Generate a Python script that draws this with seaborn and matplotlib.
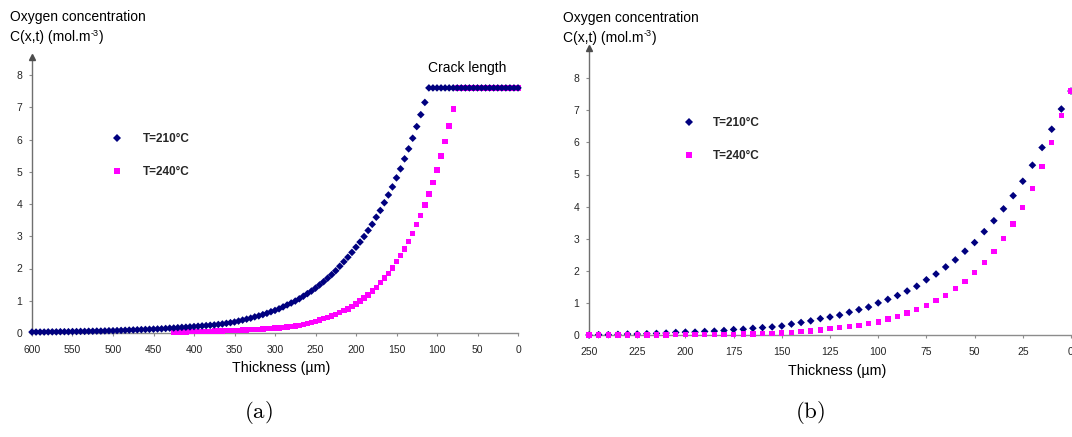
import numpy as np
import pandas as pd
import matplotlib
matplotlib.use("Agg")
import matplotlib.pyplot as plt
from matplotlib.lines import Line2D
import seaborn as sns

# ---------------------------------------------------------------------------
# Oxygen concentration profiles (mol.m-3) versus thickness (um)
# ---------------------------------------------------------------------------
series_labels = ["T=210°C", "T=240°C"]
series_colors = {"T=210°C": "#00007f", "T=240°C": "#ff00ff"}
series_markers = {"T=210°C": "D", "T=240°C": "s"}

# (a) full thickness, 5 um step, crack zone at constant concentration
thickness_a_210 = np.arange(600, -1, -5)
conc_a_210 = [
    0.03, 0.03, 0.03, 0.03, 0.035, 0.035, 0.035, 0.04, 0.04, 0.04,
    0.045, 0.045, 0.05, 0.05, 0.055, 0.055, 0.06, 0.06, 0.065, 0.07,
    0.07, 0.075, 0.08, 0.085, 0.09, 0.095, 0.10, 0.105, 0.11, 0.115,
    0.12, 0.125, 0.13, 0.14, 0.15, 0.155, 0.165, 0.175, 0.18, 0.19,
    0.20, 0.21, 0.22, 0.23, 0.24, 0.25, 0.265, 0.28, 0.30, 0.32,
    0.34, 0.37, 0.40, 0.43, 0.46, 0.50, 0.53, 0.57, 0.61, 0.66,
    0.70, 0.75, 0.81, 0.87, 0.93, 0.99, 1.06, 1.14, 1.22, 1.30,
    1.39, 1.49, 1.59, 1.70, 1.81, 1.93, 2.07, 2.21, 2.35, 2.50,
    2.66, 2.82, 2.99, 3.18, 3.37, 3.59, 3.80, 4.04, 4.28, 4.53,
    4.81, 5.09, 5.40, 5.71, 6.04, 6.40, 6.77, 7.15,
    7.6, 7.6, 7.6, 7.6, 7.6, 7.6, 7.6, 7.6, 7.6, 7.6, 7.6, 7.6,
    7.6, 7.6, 7.6, 7.6, 7.6, 7.6, 7.6, 7.6, 7.6, 7.6, 7.6,
]
thickness_a_240 = np.arange(425, -1, -5)
conc_a_240 = [
    0.03, 0.03, 0.035, 0.035, 0.04, 0.04, 0.045, 0.05, 0.05, 0.055,
    0.06, 0.06, 0.065, 0.07, 0.075, 0.08, 0.085, 0.09, 0.095, 0.10,
    0.105, 0.11, 0.12, 0.13, 0.14, 0.15, 0.16, 0.17, 0.185, 0.20,
    0.22, 0.24, 0.265, 0.29, 0.32, 0.36, 0.40, 0.44, 0.48, 0.53,
    0.58, 0.63, 0.69, 0.75, 0.82, 0.90, 0.99, 1.08, 1.18, 1.30,
    1.42, 1.56, 1.70, 1.85, 2.02, 2.21, 2.41, 2.61, 2.84, 3.09,
    3.37, 3.64, 3.97, 4.31, 4.66, 5.05, 5.49, 5.94, 6.42, 6.95,
    7.6, 7.6, 7.6, 7.6, 7.6, 7.6, 7.6, 7.6, 7.6, 7.6, 7.6, 7.6,
    7.6, 7.6, 7.6, 7.6,
]
xticks_a = [600, 550, 500, 450, 400, 350, 300, 250, 200, 150, 100, 50, 0]

# (b) near-surface zone, 5 um step
thickness_b = np.arange(250, -1, -5)
conc_b_210 = [
    0.0, 0.01, 0.01, 0.02, 0.03, 0.03, 0.04, 0.05, 0.06, 0.08,
    0.09, 0.09, 0.11, 0.12, 0.14, 0.17, 0.18, 0.21, 0.23, 0.25,
    0.28, 0.34, 0.39, 0.44, 0.51, 0.56, 0.62, 0.71, 0.79, 0.87,
    1.00, 1.11, 1.23, 1.37, 1.52, 1.72, 1.90, 2.12, 2.34, 2.61,
    2.88, 3.22, 3.56, 3.93, 4.34, 4.79, 5.29, 5.84, 6.41, 7.04,
    7.6,
]
conc_b_240 = [
    0.0, 0.0, 0.0, 0.0, 0.0, 0.0, 0.005, 0.005, 0.005, 0.01,
    0.01, 0.01, 0.01, 0.01, 0.02, 0.02, 0.03, 0.03, 0.04, 0.05,
    0.06, 0.08, 0.10, 0.12, 0.16, 0.20, 0.23, 0.26, 0.30, 0.36,
    0.41, 0.50, 0.57, 0.68, 0.80, 0.91, 1.07, 1.23, 1.44, 1.67,
    1.95, 2.25, 2.60, 3.00, 3.46, 3.98, 4.57, 5.24, 6.00, 6.83,
    7.6,
]
xticks_b = [250, 225, 200, 175, 150, 125, 100, 75, 50, 25, 0]
yticks = [0, 1, 2, 3, 4, 5, 6, 7, 8]

y_title = ["Oxygen concentration", "C(x,t) (mol.m", "-3", ")"]
x_title = "Thickness (µm)"


def frame(x210, c210, x240, c240, top_series):
    d210 = pd.DataFrame({"x": x210, "c": c210, "series": series_labels[0]})
    d240 = pd.DataFrame({"x": x240, "c": c240, "series": series_labels[1]})
    # the series listed last is drawn on top
    if top_series == series_labels[0]:
        return pd.concat([d240, d210], ignore_index=True)
    return pd.concat([d210, d240], ignore_index=True)


df_a = frame(thickness_a_210, conc_a_210, thickness_a_240, conc_a_240, series_labels[0])
df_b = frame(thickness_b, conc_b_210, thickness_b, conc_b_240, series_labels[1])

sns.set_theme(style="white")
plt.rcParams["font.family"] = ["Liberation Sans", "DejaVu Sans"]

W, H = 1072, 437
fig = plt.figure(figsize=(W / 100, H / 100), dpi=100)
fig.patch.set_facecolor("white")


def px_axes(left, right, bottom, top):
    return fig.add_axes([left / W, (H - bottom) / H, (right - left) / W, (bottom - top) / H])


ax_a = px_axes(32, 518, 333, 57)
ax_b = px_axes(589, 1071, 335, 48)


def draw_panel(ax, df, xmax, xticks, ytop, legend_anchor, label_gap):
    sns.scatterplot(
        data=df, x="x", y="c", hue="series", style="series",
        hue_order=series_labels, style_order=series_labels,
        palette=series_colors, markers=series_markers,
        s=15, linewidth=0, legend=False, ax=ax, clip_on=False, zorder=3,
    )
    ax.set_xlim(xmax, 0)
    ax.set_ylim(0, ytop)
    ax.set_xticks(xticks)
    ax.set_xticklabels([str(t) for t in xticks])
    ax.set_yticks(yticks)
    ax.set_yticklabels([str(t) for t in yticks])
    ax.set_xlabel("")
    ax.set_ylabel("")
    for side in ("top", "right"):
        ax.spines[side].set_visible(False)
    ax.spines["left"].set_color("#6f6f6f")
    ax.spines["bottom"].set_color("#8c8c8c")
    ax.spines["left"].set_linewidth(1.0)
    ax.spines["bottom"].set_linewidth(1.0)
    ax.tick_params(axis="both", which="major", bottom=True, left=True,
                   direction="out", length=2.5, width=0.8, color="#8c8c8c",
                   labelsize=7.5, labelcolor="#262626")
    ax.tick_params(axis="x", pad=6)
    ax.tick_params(axis="y", pad=4.5)
    ax.set_facecolor("white")
    # arrow head at the top of the concentration axis
    ax.plot([0], [1], marker="^", markersize=4, color="#4d4d4d",
            transform=ax.transAxes, clip_on=False, zorder=5)

    handles = [
        Line2D([], [], linestyle="", marker=series_markers[n], markersize=4.2,
               markerfacecolor=series_colors[n], markeredgewidth=0)
        for n in series_labels
    ]
    ax.legend(handles, series_labels, loc="upper left", bbox_to_anchor=legend_anchor,
              frameon=False, borderpad=0, borderaxespad=0, handlelength=1.0,
              handletextpad=label_gap, labelspacing=1.75,
              prop={"family": "Liberation Sans", "weight": "bold", "size": 8.5})


draw_panel(ax_a, df_a, 600, xticks_a, 276 / 32.25, (0.163, 0.723), 1.65)
draw_panel(ax_b, df_b, 250, xticks_b, 287 / 32.1, (0.195, 0.758), 1.5)

# concentration axis titles, with a hyphen-style superscript exponent
renderer = fig.canvas.get_renderer()
for x0, y0 in ((10, 17), (563, 18)):
    fig.text(x0 / W, 1 - y0 / H, y_title[0], fontsize=10, ha="left", va="center", color="black")
    base = fig.text(x0 / W, 1 - (y0 + 20) / H, y_title[1], fontsize=10,
                    ha="left", va="center", color="black")
    bb = base.get_window_extent(renderer)
    sup = fig.text((bb.x1 + 0.5) / W, 1 - (y0 + 16) / H, y_title[2], fontsize=6.5,
                   ha="left", va="center", color="black")
    sb = sup.get_window_extent(renderer)
    fig.text((sb.x1 + 0.3) / W, 1 - (y0 + 20) / H, y_title[3], fontsize=10,
             ha="left", va="center", color="black")

fig.text(281 / W, 1 - 368 / H, x_title, fontsize=10.3, ha="center", va="center", color="black")
fig.text(837 / W, 1 - 371 / H, x_title, fontsize=10.3, ha="center", va="center", color="black")

fig.text(428 / W, 1 - 68 / H, "Crack length", fontsize=10, ha="left", va="center", color="black")

# sub-figure captions
fig.text(258 / W, 1 - 412 / H, r"$\mathrm{(a)}$", fontsize=16.5, ha="center", va="center",
         math_fontfamily="cm", color="black")
fig.text(810 / W, 1 - 413 / H, r"$\mathrm{(b)}$", fontsize=16.5, ha="center", va="center",
         math_fontfamily="cm", color="black")

fig.savefig("out.png", dpi=100, facecolor="white")
